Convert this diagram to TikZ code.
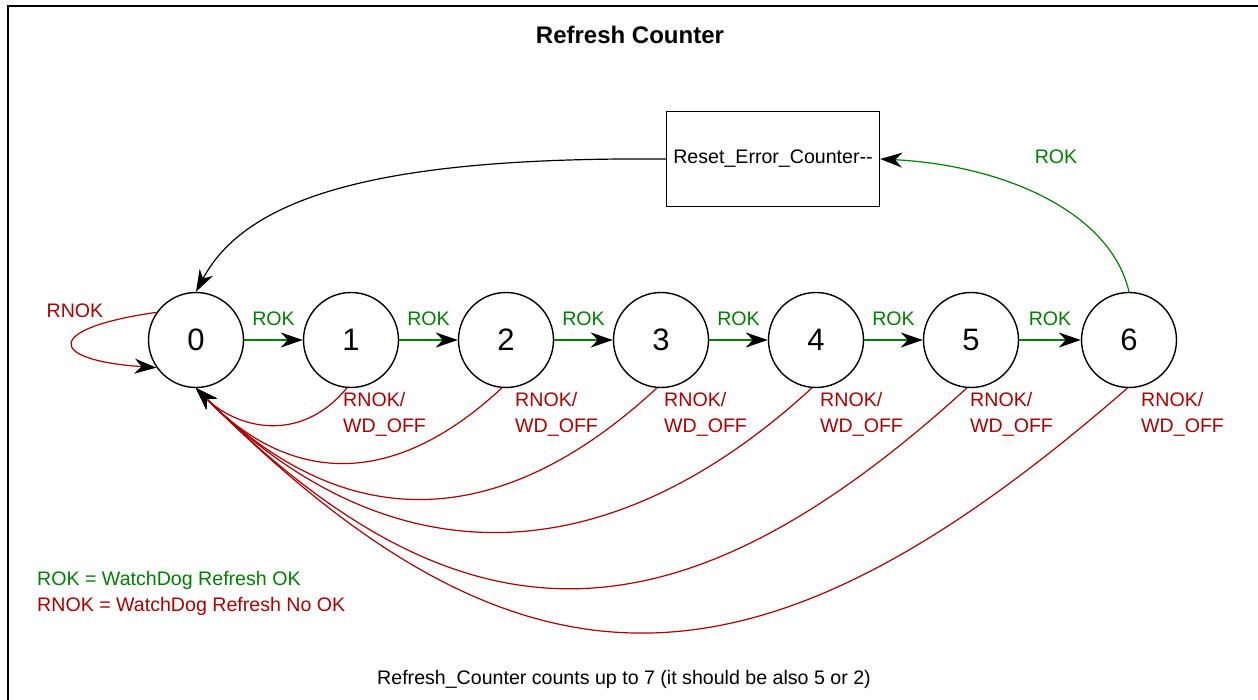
\documentclass[tikz,border=0pt]{standalone}
\usepackage{fontspec}
\setmainfont{Liberation Sans}
\usetikzlibrary{arrows.meta}
\definecolor{okgreen}{RGB}{0,128,0}
\definecolor{nokred}{RGB}{175,0,0}
\begin{document}
\begin{tikzpicture}[x=1pt,y=-1pt,
  state/.style={circle, draw, line width=1.4pt, minimum size=95pt, inner sep=0pt, font=\fontsize{31}{31}\selectfont},
  lbl/.style={font=\fontsize{19.6}{26}\selectfont, inner sep=0pt},
  tip/.style={-{Stealth[black,length=22pt,width=15pt,inset=7pt]}},
  okedge/.style={okgreen, line width=1.2pt, tip},
  nokedge/.style={nokred, line width=1.2pt, tip},
  noklbl/.style={lbl, nokred, anchor=north west, align=left}]
\useasboundingbox (0,0) rectangle (1258,700);
\fill[white] (0,0) rectangle (1258,700);
\draw[line width=2pt] (8,720) -- (8,6) -- (1270,6);

\node[font=\bfseries\fontsize{24}{24}\selectfont, inner sep=0pt] (title) at (630,35) {Refresh Counter};

\node[state] (s0) at (196,340) {0};
\node[state] (s1) at (351,340) {1};
\node[state] (s2) at (506,340) {2};
\node[state] (s3) at (661,340) {3};
\node[state] (s4) at (816,340) {4};
\node[state] (s5) at (971,340) {5};
\node[state] (s6) at (1129,340) {6};

\node[draw, line width=1.4pt, minimum width=213pt, minimum height=95pt, lbl] (rst) at (773,159) {Reset\_Error\_Counter-{}-};

\draw[okedge] (s0) -- node[lbl, okgreen, above=14pt] {ROK} (s1);
\draw[okedge] (s1) -- node[lbl, okgreen, above=14pt] {ROK} (s2);
\draw[okedge] (s2) -- node[lbl, okgreen, above=14pt] {ROK} (s3);
\draw[okedge] (s3) -- node[lbl, okgreen, above=14pt] {ROK} (s4);
\draw[okedge] (s4) -- node[lbl, okgreen, above=14pt] {ROK} (s5);
\draw[okedge] (s5) -- node[lbl, okgreen, above=14pt] {ROK} (s6);

\draw[okedge] (s6.north) .. controls (1110,210) and (1000,165) .. (rst.east);
\node[lbl, okgreen] (rokr) at (1056,157) {ROK};

\draw[line width=1.2pt, tip] (rst.west) .. controls (400,157) and (250,190) .. (s0.north);

\draw[nokedge] (s0.145) .. controls (45,328) and (45,360) .. (s0.215);
\node[lbl, nokred] (rnok0) at (75,311) {RNOK};

\draw[nokedge] (s1.-95) .. controls (300,445) and (236,428) .. (s0.south);
\draw[nokedge] (s2.-95) .. controls (392,490) and (290,484) .. (s0.south);
\draw[nokedge] (s3.-95) .. controls (496,537) and (341,533) .. (s0.south);
\draw[nokedge] (s4.-95) .. controls (603,580) and (386,578) .. (s0.south);
\draw[nokedge] (s5.-95) .. controls (674,655) and (461,653) .. (s0.south);
\draw[nokedge] (s6.-92) .. controls (755,713) and (521,713) .. (s0.south);

\node[noklbl] (l1) at (343,392) {RNOK/\\WD\_OFF};
\node[noklbl] (l2) at (515,392) {RNOK/\\WD\_OFF};
\node[noklbl] (l3) at (664,392) {RNOK/\\WD\_OFF};
\node[noklbl] (l4) at (820,392) {RNOK/\\WD\_OFF};
\node[noklbl] (l5) at (970,392) {RNOK/\\WD\_OFF};
\node[noklbl] (l6) at (1141,392) {RNOK/\\WD\_OFF};

\node[lbl, okgreen, anchor=west] (leg1) at (37,580) {ROK = WatchDog Refresh OK};
\node[lbl, nokred, anchor=west] (leg2) at (37,606) {RNOK = WatchDog Refresh No OK};

\node[lbl] (foot) at (624,679) {Refresh\_Counter counts up to 7 (it should be also 5 or 2)};
\end{tikzpicture}
\end{document}
